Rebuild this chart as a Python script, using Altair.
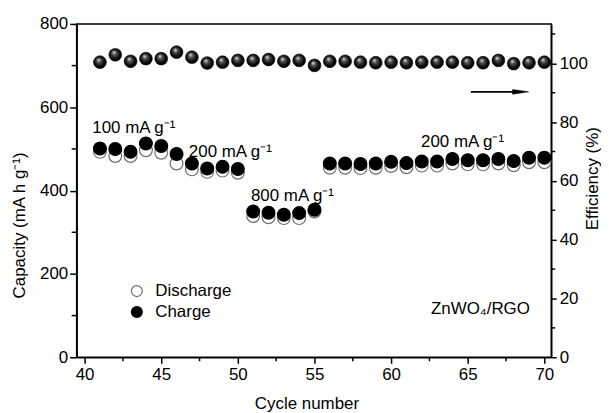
import altair as alt
import pandas as pd

# ---------------- data ----------------
cycles = list(range(41, 71))
charge = [501, 500, 493, 513, 507, 488, 465, 453, 457, 452,
          350, 347, 342, 346, 354,
          465, 465, 464, 465, 469, 466, 470, 470, 476, 473, 473, 476, 471, 479, 479]
discharge = [493, 483, 483, 497, 491, 465, 451, 445, 448, 443,
             339, 336, 334, 334, 350,
             455, 455, 454, 455, 459, 456, 460, 460, 465, 463, 463, 465, 461, 468, 468]
efficiency = [100.4, 102.9, 100.7, 101.6, 101.6, 103.8, 102.1, 100.1, 100.4, 101.0,
              101.0, 101.3, 100.7, 101.0, 99.3, 100.7, 100.7, 100.4, 100.2, 100.4,
              100.2, 100.4, 100.4, 100.4, 100.2, 100.2, 101.0, 99.9, 100.2, 100.4]

series_names = ["Discharge", "Charge"]

label_text = ["100 mA g\u207b\u00b9", "200 mA g\u207b\u00b9", "800 mA g\u207b\u00b9",
              "200 mA g\u207b\u00b9", "ZnWO\u2084/RGO"]
label_cycle = [40.5, 46.8, 50.85, 61.95, 62.6]
label_cap = [550, 492, 387, 516, 115]

arrow_start = 65.2
arrow_end = 68.45
arrow_eff = 90.3

x_ticks = [40, 45, 50, 55, 60, 65, 70]
x_minor = [42.5, 47.5, 52.5, 57.5, 62.5, 67.5]
yl_ticks = [0, 200, 400, 600, 800]
yl_minor = [100, 300, 500, 700]
yr_ticks = [0, 20, 40, 60, 80, 100]
yr_minor = [10, 30, 50, 70, 90, 110]

FONT = "Liberation Sans"
FS = 17
W, H = 477, 335

cap_df = pd.DataFrame({
    "Cycle": cycles + cycles,
    "Capacity": discharge + charge,
    "Series": ["Discharge"] * len(cycles) + ["Charge"] * len(cycles),
})
eff_df = pd.DataFrame({"Cycle": cycles, "Efficiency": efficiency})
lab_df = pd.DataFrame({"Cycle": label_cycle, "Capacity": label_cap, "Text": label_text})
arrow_df = pd.DataFrame({"Cycle": [arrow_start], "Cycle2": [arrow_end], "Efficiency": [arrow_eff]})
head_df = pd.DataFrame({"Cycle": [arrow_end], "Efficiency": [arrow_eff]})
xminor_df = pd.DataFrame({"Cycle": x_minor})
ylminor_df = pd.DataFrame({"Capacity": yl_minor})
yrminor_df = pd.DataFrame({"Efficiency": yr_minor})

xscale = alt.Scale(domain=[39.48, 70.45], nice=False, zero=False)
ylscale = alt.Scale(domain=[0, 800], nice=False)
yrscale = alt.Scale(domain=[0, 113.4], nice=False)

x_axis = alt.Axis(values=x_ticks, tickSize=6, labelPadding=3, title="Cycle number",
                  titleY=46, titleBaseline="middle", titleX=231, titleAlign="center")
yl_axis = alt.Axis(values=yl_ticks, tickSize=7, labelPadding=2,
                   title="Capacity (mA h g\u207b\u00b9)", titleX=-57, titleY=202,
                   titleBaseline="middle", titleAlign="center", titleAngle=270)
yr_axis = alt.Axis(values=yr_ticks, tickSize=5, labelPadding=3, orient="right",
                   title="Efficiency (%)", titleX=41, titleY=155,
                   titleBaseline="middle", titleAlign="center", titleAngle=270)

X = alt.X("Cycle:Q", scale=xscale, axis=x_axis)

legend = alt.Legend(title=None, orient="none", legendX=52, legendY=260,
                    labelFont=FONT, labelFontSize=FS, labelColor="black",
                    symbolSize=120, symbolStrokeWidth=1.2, labelOffset=10,
                    rowPadding=3, padding=0)

cap_points = alt.Chart(cap_df).mark_point(
    shape="circle", filled=True, size=165, strokeWidth=1.2, opacity=1
).encode(
    x=X,
    y=alt.Y("Capacity:Q", scale=ylscale, axis=yl_axis),
    fill=alt.Fill("Series:N", scale=alt.Scale(domain=series_names, range=["white", "black"]), legend=legend),
    stroke=alt.Stroke("Series:N", scale=alt.Scale(domain=series_names, range=["#707070", "black"]), legend=legend),
)

labels = alt.Chart(lab_df).mark_text(
    align="left", baseline="middle", font=FONT, fontSize=FS, color="black"
).encode(x=alt.X("Cycle:Q", scale=xscale), y=alt.Y("Capacity:Q", scale=ylscale), text="Text:N")

yl_minor_ticks = alt.Chart(ylminor_df).mark_rule(color="black", strokeWidth=1.5).encode(
    y=alt.Y("Capacity:Q", scale=ylscale), x=alt.value(-5), x2=alt.value(0))

x_minor_ticks = alt.Chart(xminor_df).mark_rule(color="black", strokeWidth=1.5).encode(
    x=alt.X("Cycle:Q", scale=xscale), y=alt.value(H), y2=alt.value(H + 4))

left = alt.layer(cap_points, labels, yl_minor_ticks, x_minor_ticks)

sphere = {
    "gradient": "radial",
    "x1": 0.38, "y1": 0.3, "r1": 0.0,
    "x2": 0.5, "y2": 0.5, "r2": 0.55,
    "stops": [
        {"offset": 0.0, "color": "#f0f0f0"},
        {"offset": 0.3, "color": "#555555"},
        {"offset": 0.7, "color": "#0a0a0a"},
        {"offset": 1.0, "color": "#000000"},
    ],
}

eff_points = alt.Chart(eff_df).mark_point(
    shape="circle", filled=True, size=165, fill=sphere, stroke="black", strokeWidth=0.6, opacity=1
).encode(
    x=alt.X("Cycle:Q", scale=xscale),
    y=alt.Y("Efficiency:Q", scale=yrscale, axis=yr_axis),
)

arrow_line = alt.Chart(arrow_df).mark_rule(color="black", strokeWidth=1.8).encode(
    x=alt.X("Cycle:Q", scale=xscale), x2="Cycle2:Q", y=alt.Y("Efficiency:Q", scale=yrscale))

arrow_head = alt.Chart(head_df).mark_point(
    shape="M-1,-0.3L1,0L-1,0.3Z", filled=True, fill="black", stroke="black",
    strokeWidth=0.5, size=260, opacity=1
).encode(x=alt.X("Cycle:Q", scale=xscale), y=alt.Y("Efficiency:Q", scale=yrscale))

yr_minor_ticks = alt.Chart(yrminor_df).mark_rule(color="black", strokeWidth=1.5).encode(
    y=alt.Y("Efficiency:Q", scale=yrscale), x=alt.value(W), x2=alt.value(W + 4))

right = alt.layer(arrow_line, arrow_head, eff_points, yr_minor_ticks)

chart = alt.layer(left, right).resolve_scale(y="independent").properties(
    width=W, height=H,
    autosize=alt.AutoSizeParams(type="none"),
    padding={"left": 69, "top": 15, "right": 50, "bottom": 56},
).configure_view(
    stroke="black", strokeWidth=1.5
).configure_axis(
    grid=False, domainColor="black", domainWidth=1.5, tickColor="black", tickWidth=1.5,
    labelFont=FONT, labelFontSize=FS, labelColor="black",
    titleFont=FONT, titleFontSize=FS, titleFontWeight="normal", titleColor="black",
)

chart.save("out.html", embed_options={"renderer": "svg", "actions": False})
